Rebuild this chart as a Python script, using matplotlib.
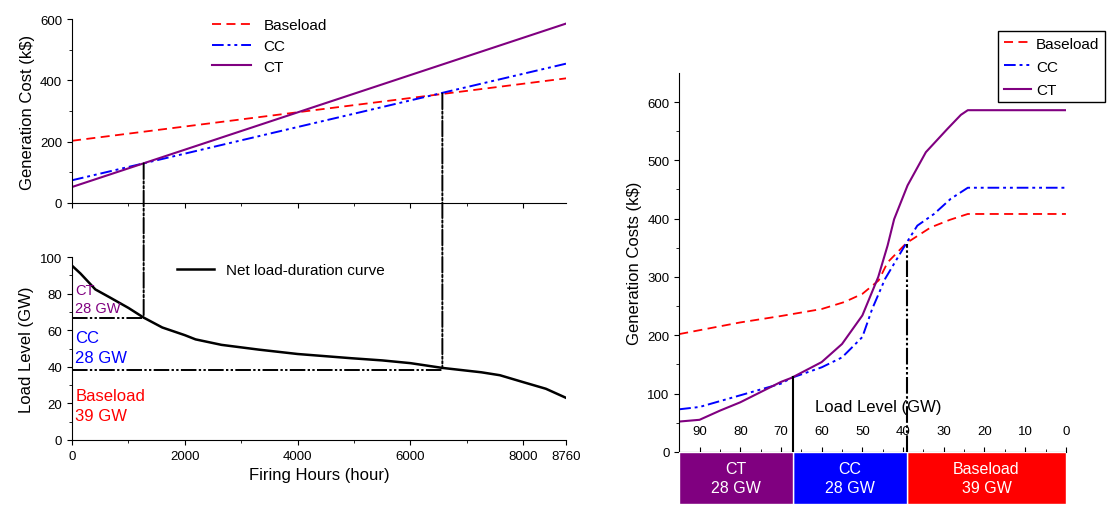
import matplotlib.pyplot as plt
from matplotlib.patches import ConnectionPatch

plt.rcParams['font.family'] = ['Liberation Sans', 'DejaVu Sans']

# --- screening curves (cost vs firing hours), straight lines ---
hours_span = [0, 8760]
cost_base = [203, 407]
cost_cc = [74, 455]
cost_ct = [52, 586]

# --- net load-duration curve ---
ldc_hours = [0, 150, 414, 678, 1000, 1270, 1600, 2000, 2190, 2650, 3310, 4000, 4950,
             5500, 6000, 6565, 7257, 7585, 8000, 8400, 8760]
ldc_gw = [95.3, 91, 82.3, 77.8, 72.2, 66.9, 61.5, 57.3, 55, 52, 49.4, 47, 44.7,
          43.5, 42, 39.4, 37, 35.4, 31.6, 28, 23]

# crossing points (CT/CC and CC/Baseload)
cross_hours = [1270, 6565]
cross_cost = [129, 357]
split_gw = [67, 39]

# capacity mix
cap_names = ['Baseload', 'CC', 'CT']
cap_gw = [39, 28, 28]
cap_left = [0, 39, 67]

# --- generation cost vs load level ---
base_lvl = [95, 80, 70, 60, 54.4, 50, 46, 43.8, 39.2, 33.2, 28.5, 24.1, 0]
base_cost = [202, 222, 233, 245, 257, 271, 294, 325, 358, 385, 398, 408, 408]
cc_lvl = [95, 90, 80, 70, 67.4, 60, 55, 50, 47.6, 44.4, 39.2, 36.5, 32.4, 28.3, 24.1, 0]
cc_cost = [73, 77, 97, 117, 127, 145, 162, 197, 245, 297, 358, 388, 408, 434, 453, 453]
ct_lvl = [95, 90, 84.9, 80, 70, 67.4, 60, 55, 50, 46.1, 43.8, 42.2, 38.9, 34.4,
          29.1, 25.8, 24.1, 0]
ct_cost = [52, 55, 71, 85, 120, 127, 154, 185, 234, 300, 354, 399, 457, 514,
           554, 578, 586, 586]

RED = '#FF0000'
BLUE = '#0000FF'
PURPLE = '#800080'
cc_ls = (0, (6, 2, 1.5, 2, 1.5, 2))
base_ls = (0, (5, 3))
vline_ls = (0, (8, 1.2, 1.2, 1.2, 1.2, 1.2))

fig = plt.figure(figsize=(11.08, 5.06), dpi=100)

# ---------------- left top ----------------
ax1 = fig.add_axes([0.065, 0.597, 0.446, 0.363])
ax1.plot(hours_span, cost_base, color=RED, ls=base_ls, lw=1.3, label='Baseload')
ax1.plot(hours_span, cost_cc, color=BLUE, ls=cc_ls, lw=1.4, label='CC')
ax1.plot(hours_span, cost_ct, color=PURPLE, lw=1.5, label='CT')
ax1.set_xlim(0, 8760)
ax1.set_ylim(0, 600)
ax1.set_yticks([0, 200, 400, 600])
ax1.set_yticks([100, 300, 500], minor=True)
ax1.set_xticks([0, 2000, 4000, 6000, 8000])
ax1.set_xticks([1000, 3000, 5000, 7000], minor=True)
ax1.tick_params(axis='x', labelbottom=False)
ax1.set_ylabel('Generation Cost (k$)', fontsize=12)
ax1.legend(loc='upper left', bbox_to_anchor=(0.27, 1.04), frameon=False,
           fontsize=11, handlelength=2.6, labelspacing=0.45, borderaxespad=0)

# ---------------- left bottom ----------------
ax2 = fig.add_axes([0.065, 0.1285, 0.446, 0.3615])
ax2.plot(ldc_hours, ldc_gw, color='black', lw=1.8, label='Net load-duration curve')
ax2.plot([0, cross_hours[0]], [split_gw[0] - 0.5] * 2, color='black', ls=vline_ls, lw=1.4)
ax2.plot([0, cross_hours[1]], [split_gw[1] - 0.5] * 2, color='black', ls=vline_ls, lw=1.4)
ax2.set_xlim(0, 8760)
ax2.set_ylim(0, 100)
ax2.set_xticks([0, 2000, 4000, 6000, 8000, 8760])
ax2.set_xticks([1000, 3000, 5000, 7000], minor=True)
ax2.set_yticks([0, 20, 40, 60, 80, 100])
ax2.set_yticks([10, 30, 50, 70, 90], minor=True)
ax2.set_xlabel('Firing Hours (hour)', fontsize=12)
ax2.set_ylabel('Load Level (GW)', fontsize=12)
ax2.legend(loc='upper left', bbox_to_anchor=(0.2, 1.0), frameon=False,
           fontsize=11, handlelength=2.4, borderaxespad=0)
ax2.text(60, 77, 'CT\n28 GW', color=PURPLE, fontsize=10.5, va='center', linespacing=1.3)
ax2.text(60, 50.6, 'CC\n28 GW', color=BLUE, fontsize=12, va='center', linespacing=1.35)
ax2.text(60, 19, 'Baseload\n39 GW', color=RED, fontsize=12, va='center', linespacing=1.4)

for h, c, g in zip(cross_hours, cross_cost, [ldc_gw[5], ldc_gw[15]]):
    con = ConnectionPatch(xyA=(h, c), coordsA=ax1.transData,
                          xyB=(h, g), coordsB=ax2.transData,
                          color='black', ls=vline_ls, lw=1.4)
    fig.add_artist(con)

for a in (ax1, ax2):
    for s in ('top', 'right'):
        a.spines[s].set_visible(False)
    a.tick_params(labelsize=9.5)

# ---------------- right ----------------
ax3 = fig.add_axes([0.613, 0.105, 0.349, 0.749])
ax3.plot(base_lvl, base_cost, color=RED, ls=base_ls, lw=1.3, label='Baseload')
ax3.plot(cc_lvl, cc_cost, color=BLUE, ls=cc_ls, lw=1.4, label='CC')
ax3.plot(ct_lvl, ct_cost, color=PURPLE, lw=1.5, label='CT')
ax3.plot([split_gw[0], split_gw[0]], [0, cross_cost[0]], color='black', lw=1.5)
ax3.plot([split_gw[1], split_gw[1]], [0, cross_cost[1]], color='black', ls=vline_ls, lw=1.5)
ax3.set_xlim(95, 0)
ax3.set_ylim(0, 650)
ax3.set_xticks(range(0, 100, 10))
ax3.set_xticks(range(5, 95, 10), minor=True)
ax3.set_yticks(range(0, 700, 100))
ax3.set_yticks(range(50, 650, 100), minor=True)
ax3.tick_params(axis='x', which='both', direction='in', pad=-19)
ax3.tick_params(labelsize=9.5)
ax3.spines['top'].set_visible(False)
ax3.spines['right'].set_visible(False)
ax3.set_ylabel('Generation Costs (k$)', fontsize=12)
ax3.text(0.514, 0.119, 'Load Level (GW)', transform=ax3.transAxes,
         ha='center', va='center', fontsize=12)
ax3.legend(loc='upper right', bbox_to_anchor=(1.10, 1.11), fancybox=False,
           edgecolor='black', fontsize=11, handlelength=1.8, handletextpad=0.3,
           labelspacing=0.6, borderpad=0.35, borderaxespad=0, framealpha=1)

# capacity bar under the right axis
ax4 = fig.add_axes([0.613, 0.002, 0.349, 0.103])
ax4.barh(0, cap_gw, left=cap_left, height=1, color=[RED, BLUE, PURPLE],
         edgecolor='white', lw=1)
for name, w, l in zip(cap_names, cap_gw, cap_left):
    ax4.text(l + w / 2, 0, f'{name}\n{w} GW', color='white', ha='center',
             va='center', fontsize=11.5, linespacing=1.4)
ax4.set_xlim(95, 0)
ax4.set_ylim(-0.5, 0.5)
ax4.axis('off')

fig.savefig('out.png', dpi=100)
